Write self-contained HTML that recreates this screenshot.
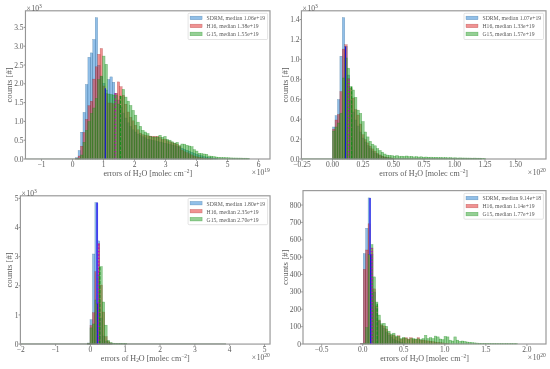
<!DOCTYPE html>
<html lang="en">
<head>
<meta charset="utf-8">
<title>Histograms of H2O errors</title>
<style>
html,body{margin:0;padding:0;background:#fff}
body{width:550px;height:369px;overflow:hidden}
svg{display:block}
</style>
</head>
<body>
<svg width="550" height="369" viewBox="0 0 550 369" font-family="'Liberation Serif', serif" fill="#5a5a5a">
<style>.hb{fill:#2480d2;fill-opacity:.5;stroke:#14507f;stroke-opacity:.5;stroke-width:.4}.hr{fill:#e22626;fill-opacity:.5;stroke:#8f1a1a;stroke-opacity:.5;stroke-width:.4}.hg{fill:#2ca02c;fill-opacity:.5;stroke:#128a12;stroke-opacity:.5;stroke-width:.5}</style>
<rect width="550" height="369" fill="#fff"/>
<g>
<rect class="hb" x="75.65" y="157.6" width="2.45" height="1.4"/>
<rect class="hb" x="78.1" y="150.5" width="2.45" height="8.5"/>
<rect class="hb" x="80.55" y="132.2" width="2.45" height="26.8"/>
<rect class="hb" x="82.99" y="112.4" width="2.45" height="46.6"/>
<rect class="hb" x="85.44" y="84.5" width="2.45" height="74.5"/>
<rect class="hb" x="87.89" y="57.3" width="2.45" height="101.7"/>
<rect class="hb" x="90.33" y="52.9" width="2.45" height="106.1"/>
<rect class="hb" x="92.78" y="39.5" width="2.45" height="119.5"/>
<rect class="hb" x="95.23" y="17.7" width="2.45" height="141.3"/>
<rect class="hb" x="97.68" y="65.3" width="2.45" height="93.7"/>
<rect class="hb" x="100.12" y="76.5" width="2.45" height="82.5"/>
<rect class="hb" x="102.57" y="83.2" width="2.45" height="75.8"/>
<rect class="hb" x="105.02" y="90" width="2.45" height="69"/>
<rect class="hb" x="107.46" y="79.5" width="2.45" height="79.5"/>
<rect class="hb" x="109.91" y="76.9" width="2.45" height="82.1"/>
<rect class="hb" x="112.36" y="82.3" width="2.45" height="76.7"/>
<rect class="hb" x="114.8" y="93.5" width="2.45" height="65.5"/>
<rect class="hb" x="117.25" y="100" width="2.45" height="59"/>
<rect class="hb" x="119.7" y="107" width="2.45" height="52"/>
<rect class="hb" x="122.15" y="113" width="2.45" height="46"/>
<rect class="hb" x="124.59" y="118" width="2.45" height="41"/>
<rect class="hb" x="127.04" y="122.8" width="2.45" height="36.2"/>
<rect class="hb" x="129.49" y="126.5" width="2.45" height="32.5"/>
<rect class="hb" x="131.93" y="129.8" width="2.45" height="29.2"/>
<rect class="hb" x="134.38" y="132" width="2.45" height="27"/>
<rect class="hb" x="136.83" y="134" width="2.45" height="25"/>
<rect class="hb" x="139.27" y="135.5" width="2.45" height="23.5"/>
<rect class="hb" x="141.72" y="136.8" width="2.45" height="22.2"/>
<rect class="hb" x="144.17" y="137.8" width="2.45" height="21.2"/>
<rect class="hb" x="146.62" y="139.2" width="2.45" height="19.8"/>
<rect class="hb" x="149.06" y="139.8" width="2.45" height="19.2"/>
<rect class="hb" x="151.51" y="140.3" width="2.45" height="18.7"/>
<rect class="hb" x="153.96" y="140.8" width="2.45" height="18.2"/>
<rect class="hb" x="156.4" y="141.4" width="2.45" height="17.6"/>
<rect class="hb" x="158.85" y="142" width="2.45" height="17"/>
<rect class="hb" x="161.3" y="142.6" width="2.45" height="16.4"/>
<rect class="hb" x="163.75" y="143.2" width="2.45" height="15.8"/>
<rect class="hb" x="166.19" y="143.8" width="2.45" height="15.2"/>
<rect class="hb" x="168.64" y="144.4" width="2.45" height="14.6"/>
<rect class="hb" x="171.09" y="145" width="2.45" height="14"/>
<rect class="hb" x="173.53" y="145.6" width="2.45" height="13.4"/>
<rect class="hb" x="175.98" y="146.3" width="2.45" height="12.7"/>
<rect class="hb" x="178.43" y="147.2" width="2.45" height="11.8"/>
<rect class="hb" x="180.87" y="148.2" width="2.45" height="10.8"/>
<rect class="hb" x="183.32" y="149.2" width="2.45" height="9.8"/>
<rect class="hb" x="185.77" y="150.2" width="2.45" height="8.8"/>
<rect class="hb" x="188.21" y="151.2" width="2.45" height="7.8"/>
<rect class="hb" x="190.66" y="152.2" width="2.45" height="6.8"/>
<rect class="hb" x="193.11" y="153.2" width="2.45" height="5.8"/>
<rect class="hb" x="195.56" y="154.2" width="2.45" height="4.8"/>
<rect class="hb" x="198" y="155" width="2.45" height="4"/>
<rect class="hb" x="200.45" y="155.8" width="2.45" height="3.2"/>
<rect class="hb" x="202.9" y="156.5" width="2.45" height="2.5"/>
<rect class="hb" x="205.34" y="157" width="2.45" height="2"/>
<rect class="hb" x="207.79" y="157.4" width="2.45" height="1.6"/>
<rect class="hb" x="210.24" y="157.8" width="2.45" height="1.2"/>
<rect class="hb" x="212.69" y="158.1" width="2.45" height="0.9"/>
<rect class="hb" x="215.13" y="158.4" width="2.45" height="0.6"/>
<rect class="hr" x="75.65" y="158.5" width="2.45" height="0.5"/>
<rect class="hr" x="78.1" y="156" width="2.45" height="3"/>
<rect class="hr" x="80.55" y="146.2" width="2.45" height="12.8"/>
<rect class="hr" x="82.99" y="132.5" width="2.45" height="26.5"/>
<rect class="hr" x="85.44" y="119.4" width="2.45" height="39.6"/>
<rect class="hr" x="87.89" y="105.7" width="2.45" height="53.3"/>
<rect class="hr" x="90.33" y="101.2" width="2.45" height="57.8"/>
<rect class="hr" x="92.78" y="79.1" width="2.45" height="79.9"/>
<rect class="hr" x="95.23" y="66.8" width="2.45" height="92.2"/>
<rect class="hr" x="97.68" y="54.3" width="2.45" height="104.7"/>
<rect class="hr" x="100.12" y="48.5" width="2.45" height="110.5"/>
<rect class="hr" x="102.57" y="86" width="2.45" height="73"/>
<rect class="hr" x="105.02" y="93.7" width="2.45" height="65.3"/>
<rect class="hr" x="107.46" y="103" width="2.45" height="56"/>
<rect class="hr" x="109.91" y="103" width="2.45" height="56"/>
<rect class="hr" x="112.36" y="103.8" width="2.45" height="55.2"/>
<rect class="hr" x="114.8" y="93.5" width="2.45" height="65.5"/>
<rect class="hr" x="117.25" y="81.9" width="2.45" height="77.1"/>
<rect class="hr" x="119.7" y="86.7" width="2.45" height="72.3"/>
<rect class="hr" x="122.15" y="95.3" width="2.45" height="63.7"/>
<rect class="hr" x="124.59" y="104.2" width="2.45" height="54.8"/>
<rect class="hr" x="127.04" y="112" width="2.45" height="47"/>
<rect class="hr" x="129.49" y="117.3" width="2.45" height="41.7"/>
<rect class="hr" x="131.93" y="120.8" width="2.45" height="38.2"/>
<rect class="hr" x="134.38" y="125.3" width="2.45" height="33.7"/>
<rect class="hr" x="136.83" y="129.8" width="2.45" height="29.2"/>
<rect class="hr" x="139.27" y="133.1" width="2.45" height="25.9"/>
<rect class="hr" x="141.72" y="134.7" width="2.45" height="24.3"/>
<rect class="hr" x="144.17" y="135.3" width="2.45" height="23.7"/>
<rect class="hr" x="146.62" y="135.8" width="2.45" height="23.2"/>
<rect class="hr" x="149.06" y="136.1" width="2.45" height="22.9"/>
<rect class="hr" x="151.51" y="136.4" width="2.45" height="22.6"/>
<rect class="hr" x="153.96" y="136.4" width="2.45" height="22.6"/>
<rect class="hr" x="156.4" y="136.4" width="2.45" height="22.6"/>
<rect class="hr" x="158.85" y="137.4" width="2.45" height="21.6"/>
<rect class="hr" x="161.3" y="139.4" width="2.45" height="19.6"/>
<rect class="hr" x="163.75" y="139.1" width="2.45" height="19.9"/>
<rect class="hr" x="166.19" y="140.7" width="2.45" height="18.3"/>
<rect class="hr" x="168.64" y="141.8" width="2.45" height="17.2"/>
<rect class="hr" x="171.09" y="142.7" width="2.45" height="16.3"/>
<rect class="hr" x="173.53" y="143.4" width="2.45" height="15.6"/>
<rect class="hr" x="175.98" y="144.2" width="2.45" height="14.8"/>
<rect class="hr" x="178.43" y="146.2" width="2.45" height="12.8"/>
<rect class="hr" x="180.87" y="150" width="2.45" height="9"/>
<rect class="hr" x="183.32" y="151.6" width="2.45" height="7.4"/>
<rect class="hr" x="185.77" y="152.7" width="2.45" height="6.3"/>
<rect class="hr" x="188.21" y="153.8" width="2.45" height="5.2"/>
<rect class="hr" x="190.66" y="154.9" width="2.45" height="4.1"/>
<rect class="hr" x="193.11" y="156" width="2.45" height="3"/>
<rect class="hr" x="195.56" y="156.8" width="2.45" height="2.2"/>
<rect class="hr" x="198" y="157.3" width="2.45" height="1.7"/>
<rect class="hr" x="200.45" y="157.7" width="2.45" height="1.3"/>
<rect class="hr" x="202.9" y="158" width="2.45" height="1"/>
<rect class="hr" x="205.34" y="158.2" width="2.45" height="0.8"/>
<rect class="hr" x="207.79" y="158.4" width="2.45" height="0.6"/>
<rect class="hr" x="210.24" y="158.5" width="2.45" height="0.5"/>
<rect class="hg" x="75.65" y="158.8" width="2.45" height="0.2"/>
<rect class="hg" x="78.1" y="158.3" width="2.45" height="0.7"/>
<rect class="hg" x="80.55" y="155" width="2.45" height="4"/>
<rect class="hg" x="82.99" y="142.4" width="2.45" height="16.6"/>
<rect class="hg" x="85.44" y="130.4" width="2.45" height="28.6"/>
<rect class="hg" x="87.89" y="121.6" width="2.45" height="37.4"/>
<rect class="hg" x="90.33" y="113.5" width="2.45" height="45.5"/>
<rect class="hg" x="92.78" y="108" width="2.45" height="51"/>
<rect class="hg" x="95.23" y="98.5" width="2.45" height="60.5"/>
<rect class="hg" x="97.68" y="79.7" width="2.45" height="79.3"/>
<rect class="hg" x="100.12" y="76.1" width="2.45" height="82.9"/>
<rect class="hg" x="102.57" y="56.1" width="2.45" height="102.9"/>
<rect class="hg" x="105.02" y="64.3" width="2.45" height="94.7"/>
<rect class="hg" x="107.46" y="94" width="2.45" height="65"/>
<rect class="hg" x="109.91" y="94.5" width="2.45" height="64.5"/>
<rect class="hg" x="112.36" y="95" width="2.45" height="64"/>
<rect class="hg" x="114.8" y="95.5" width="2.45" height="63.5"/>
<rect class="hg" x="117.25" y="104.1" width="2.45" height="54.9"/>
<rect class="hg" x="119.7" y="96.5" width="2.45" height="62.5"/>
<rect class="hg" x="122.15" y="89.4" width="2.45" height="69.6"/>
<rect class="hg" x="124.59" y="97.1" width="2.45" height="61.9"/>
<rect class="hg" x="127.04" y="101.2" width="2.45" height="57.8"/>
<rect class="hg" x="129.49" y="105.5" width="2.45" height="53.5"/>
<rect class="hg" x="131.93" y="110.4" width="2.45" height="48.6"/>
<rect class="hg" x="134.38" y="115.2" width="2.45" height="43.8"/>
<rect class="hg" x="136.83" y="122.2" width="2.45" height="36.8"/>
<rect class="hg" x="139.27" y="126.3" width="2.45" height="32.7"/>
<rect class="hg" x="141.72" y="130.4" width="2.45" height="28.6"/>
<rect class="hg" x="144.17" y="132" width="2.45" height="27"/>
<rect class="hg" x="146.62" y="133.6" width="2.45" height="25.4"/>
<rect class="hg" x="149.06" y="136.3" width="2.45" height="22.7"/>
<rect class="hg" x="151.51" y="137" width="2.45" height="22"/>
<rect class="hg" x="153.96" y="137" width="2.45" height="22"/>
<rect class="hg" x="156.4" y="137" width="2.45" height="22"/>
<rect class="hg" x="158.85" y="135.3" width="2.45" height="23.7"/>
<rect class="hg" x="161.3" y="137.4" width="2.45" height="21.6"/>
<rect class="hg" x="163.75" y="136.4" width="2.45" height="22.6"/>
<rect class="hg" x="166.19" y="139.4" width="2.45" height="19.6"/>
<rect class="hg" x="168.64" y="140.2" width="2.45" height="18.8"/>
<rect class="hg" x="171.09" y="141.8" width="2.45" height="17.2"/>
<rect class="hg" x="173.53" y="143.1" width="2.45" height="15.9"/>
<rect class="hg" x="175.98" y="142.4" width="2.45" height="16.6"/>
<rect class="hg" x="178.43" y="145.6" width="2.45" height="13.4"/>
<rect class="hg" x="180.87" y="144" width="2.45" height="15"/>
<rect class="hg" x="183.32" y="144.2" width="2.45" height="14.8"/>
<rect class="hg" x="185.77" y="145.3" width="2.45" height="13.7"/>
<rect class="hg" x="188.21" y="146" width="2.45" height="13"/>
<rect class="hg" x="190.66" y="146.7" width="2.45" height="12.3"/>
<rect class="hg" x="193.11" y="149.7" width="2.45" height="9.3"/>
<rect class="hg" x="195.56" y="151.1" width="2.45" height="7.9"/>
<rect class="hg" x="198" y="153.3" width="2.45" height="5.7"/>
<rect class="hg" x="200.45" y="153.6" width="2.45" height="5.4"/>
<rect class="hg" x="202.9" y="154" width="2.45" height="5"/>
<rect class="hg" x="205.34" y="154.3" width="2.45" height="4.7"/>
<rect class="hg" x="207.79" y="156" width="2.45" height="3"/>
<rect class="hg" x="210.24" y="156.2" width="2.45" height="2.8"/>
<rect class="hg" x="212.69" y="156.6" width="2.45" height="2.4"/>
<rect class="hg" x="215.13" y="157" width="2.45" height="2"/>
<rect class="hg" x="217.58" y="157.3" width="2.45" height="1.7"/>
<rect class="hg" x="220.03" y="157.5" width="2.45" height="1.5"/>
<rect class="hg" x="222.47" y="157.6" width="2.45" height="1.4"/>
<rect class="hg" x="224.92" y="157.7" width="2.45" height="1.3"/>
<rect class="hg" x="227.37" y="157.8" width="2.45" height="1.2"/>
<rect class="hg" x="229.81" y="157.9" width="2.45" height="1.1"/>
<rect class="hg" x="232.26" y="158" width="2.45" height="1"/>
<rect class="hg" x="234.71" y="158" width="2.45" height="1"/>
<rect class="hg" x="237.16" y="158.1" width="2.45" height="0.9"/>
<rect class="hg" x="239.6" y="158.1" width="2.45" height="0.9"/>
<rect class="hg" x="242.05" y="158.2" width="2.45" height="0.8"/>
<rect class="hg" x="244.5" y="158.2" width="2.45" height="0.8"/>
<rect class="hg" x="246.94" y="158.3" width="2.45" height="0.7"/>
<line x1="25.9" y1="158.85" x2="249.4" y2="158.85" stroke="#4f7a55" stroke-opacity="0.45" stroke-width="0.9"/>
<line x1="105.36" y1="159" x2="105.36" y2="88.3" stroke="#1414d8" stroke-width="1.1"/>
<line x1="115.28" y1="159" x2="115.28" y2="93.2" stroke="#c400c4" stroke-width="1.25" stroke-dasharray="1.3 2.1"/>
<line x1="120.55" y1="159" x2="120.55" y2="95.6" stroke="#14901a" stroke-width="1.05" stroke-dasharray="3.4 1.2"/>
<rect x="25.46" y="10.8" width="244.54" height="148.2" fill="none" stroke="#969696" stroke-width="1.15"/>
<line x1="41.5" y1="159.5" x2="41.5" y2="160.7" stroke="#555" stroke-width="0.7"/>
<text x="41.5" y="166.5" font-size="7.5" text-anchor="middle" >−1</text>
<line x1="72.5" y1="159.5" x2="72.5" y2="160.7" stroke="#555" stroke-width="0.7"/>
<text x="72.5" y="166.5" font-size="7.5" text-anchor="middle" >0</text>
<line x1="103.5" y1="159.5" x2="103.5" y2="160.7" stroke="#555" stroke-width="0.7"/>
<text x="103.5" y="166.5" font-size="7.5" text-anchor="middle" >1</text>
<line x1="134.5" y1="159.5" x2="134.5" y2="160.7" stroke="#555" stroke-width="0.7"/>
<text x="134.5" y="166.5" font-size="7.5" text-anchor="middle" >2</text>
<line x1="165.5" y1="159.5" x2="165.5" y2="160.7" stroke="#555" stroke-width="0.7"/>
<text x="165.5" y="166.5" font-size="7.5" text-anchor="middle" >3</text>
<line x1="196.5" y1="159.5" x2="196.5" y2="160.7" stroke="#555" stroke-width="0.7"/>
<text x="196.5" y="166.5" font-size="7.5" text-anchor="middle" >4</text>
<line x1="227.5" y1="159.5" x2="227.5" y2="160.7" stroke="#555" stroke-width="0.7"/>
<text x="227.5" y="166.5" font-size="7.5" text-anchor="middle" >5</text>
<line x1="258.5" y1="159.5" x2="258.5" y2="160.7" stroke="#555" stroke-width="0.7"/>
<text x="258.5" y="166.5" font-size="7.5" text-anchor="middle" >6</text>
<line x1="23.76" y1="159" x2="24.96" y2="159" stroke="#555" stroke-width="0.7"/>
<text x="23.56" y="161.6" font-size="7.5" text-anchor="end" >0.0</text>
<line x1="23.76" y1="140.2" x2="24.96" y2="140.2" stroke="#555" stroke-width="0.7"/>
<text x="23.56" y="142.8" font-size="7.5" text-anchor="end" >0.5</text>
<line x1="23.76" y1="121.4" x2="24.96" y2="121.4" stroke="#555" stroke-width="0.7"/>
<text x="23.56" y="124" font-size="7.5" text-anchor="end" >1.0</text>
<line x1="23.76" y1="102.6" x2="24.96" y2="102.6" stroke="#555" stroke-width="0.7"/>
<text x="23.56" y="105.2" font-size="7.5" text-anchor="end" >1.5</text>
<line x1="23.76" y1="83.8" x2="24.96" y2="83.8" stroke="#555" stroke-width="0.7"/>
<text x="23.56" y="86.4" font-size="7.5" text-anchor="end" >2.0</text>
<line x1="23.76" y1="65" x2="24.96" y2="65" stroke="#555" stroke-width="0.7"/>
<text x="23.56" y="67.6" font-size="7.5" text-anchor="end" >2.5</text>
<line x1="23.76" y1="46.2" x2="24.96" y2="46.2" stroke="#555" stroke-width="0.7"/>
<text x="23.56" y="48.8" font-size="7.5" text-anchor="end" >3.0</text>
<line x1="23.76" y1="27.4" x2="24.96" y2="27.4" stroke="#555" stroke-width="0.7"/>
<text x="23.56" y="30" font-size="7.5" text-anchor="end" >3.5</text>
<text x="26.56" y="10.7" font-size="7.5" text-anchor="start" >×<tspan dx="0.8">10</tspan><tspan dy="-2.8" font-size="5.6">3</tspan></text>
<text x="269.8" y="174.5" font-size="7.5" text-anchor="end" >×<tspan dx="0.8">10</tspan><tspan dy="-2.8" font-size="5.6">19</tspan></text>
<text x="147.73" y="176.2" font-size="8.1" text-anchor="middle" textLength="88.7" lengthAdjust="spacingAndGlyphs">errors of H<tspan dy="1.2" font-size="5.4">2</tspan><tspan dy="-1.2">O [molec</tspan><tspan dx="2.3">cm</tspan><tspan dy="-2.8" font-size="5.4">−2</tspan><tspan dy="2.8">]</tspan></text>
<text transform="translate(11.9,84.9) rotate(-90)" font-size="8.1" text-anchor="middle" textLength="35.3" lengthAdjust="spacingAndGlyphs">counts [#]</text>
<rect x="188.1" y="13.3" width="79.5" height="26.2" rx="1" ry="1" fill="#fff" fill-opacity="0.8" stroke="#d0d0d0" stroke-width="0.6"/>
<rect class="hb" x="190.1" y="16.15" width="12" height="3.6"/>
<text x="206.6" y="20.3" font-size="6.3" text-anchor="start" textLength="58.6" lengthAdjust="spacingAndGlyphs">SDRM, median 1.06e+19</text>
<rect class="hr" x="190.1" y="24.15" width="12" height="3.6"/>
<text x="206.6" y="28.3" font-size="6.3" text-anchor="start" textLength="52" lengthAdjust="spacingAndGlyphs">H16, median 1.38e+19</text>
<rect class="hg" x="190.1" y="32.15" width="12" height="3.6"/>
<text x="206.6" y="36.3" font-size="6.3" text-anchor="start" textLength="52" lengthAdjust="spacingAndGlyphs">G15, median 1.55e+19</text>
</g>
<g>
<rect class="hb" x="332.6" y="127" width="2.43" height="32"/>
<rect class="hb" x="335.03" y="115.6" width="2.43" height="43.4"/>
<rect class="hb" x="337.46" y="99.6" width="2.43" height="59.4"/>
<rect class="hb" x="339.89" y="56.2" width="2.43" height="102.8"/>
<rect class="hb" x="342.32" y="17.6" width="2.43" height="141.4"/>
<rect class="hb" x="344.75" y="46.4" width="2.43" height="112.6"/>
<rect class="hb" x="347.18" y="75" width="2.43" height="84"/>
<rect class="hb" x="349.61" y="100" width="2.43" height="59"/>
<rect class="hb" x="352.04" y="112" width="2.43" height="47"/>
<rect class="hb" x="354.47" y="120" width="2.43" height="39"/>
<rect class="hb" x="356.9" y="126" width="2.43" height="33"/>
<rect class="hb" x="359.33" y="132" width="2.43" height="27"/>
<rect class="hb" x="361.76" y="138" width="2.43" height="21"/>
<rect class="hb" x="364.19" y="142" width="2.43" height="17"/>
<rect class="hb" x="366.62" y="145.5" width="2.43" height="13.5"/>
<rect class="hb" x="369.05" y="148.5" width="2.43" height="10.5"/>
<rect class="hb" x="371.48" y="151" width="2.43" height="8"/>
<rect class="hb" x="373.91" y="153" width="2.43" height="6"/>
<rect class="hb" x="376.34" y="154.5" width="2.43" height="4.5"/>
<rect class="hb" x="378.77" y="155.6" width="2.43" height="3.4"/>
<rect class="hb" x="381.2" y="156.5" width="2.43" height="2.5"/>
<rect class="hb" x="383.63" y="157.2" width="2.43" height="1.8"/>
<rect class="hb" x="386.06" y="157.7" width="2.43" height="1.3"/>
<rect class="hb" x="388.49" y="158" width="2.43" height="1"/>
<rect class="hb" x="390.92" y="158.2" width="2.43" height="0.8"/>
<rect class="hr" x="332.6" y="129.1" width="2.43" height="29.9"/>
<rect class="hr" x="335.03" y="120" width="2.43" height="39"/>
<rect class="hr" x="337.46" y="114.5" width="2.43" height="44.5"/>
<rect class="hr" x="339.89" y="91.6" width="2.43" height="67.4"/>
<rect class="hr" x="342.32" y="49.1" width="2.43" height="109.9"/>
<rect class="hr" x="344.75" y="44.7" width="2.43" height="114.3"/>
<rect class="hr" x="347.18" y="78.5" width="2.43" height="80.5"/>
<rect class="hr" x="349.61" y="88" width="2.43" height="71"/>
<rect class="hr" x="352.04" y="98" width="2.43" height="61"/>
<rect class="hr" x="354.47" y="109.6" width="2.43" height="49.4"/>
<rect class="hr" x="356.9" y="115" width="2.43" height="44"/>
<rect class="hr" x="359.33" y="124" width="2.43" height="35"/>
<rect class="hr" x="361.76" y="134.7" width="2.43" height="24.3"/>
<rect class="hr" x="364.19" y="139.6" width="2.43" height="19.4"/>
<rect class="hr" x="366.62" y="142.9" width="2.43" height="16.1"/>
<rect class="hr" x="369.05" y="146.2" width="2.43" height="12.8"/>
<rect class="hr" x="371.48" y="148.9" width="2.43" height="10.1"/>
<rect class="hr" x="373.91" y="151.1" width="2.43" height="7.9"/>
<rect class="hr" x="376.34" y="153.3" width="2.43" height="5.7"/>
<rect class="hr" x="378.77" y="154.9" width="2.43" height="4.1"/>
<rect class="hr" x="381.2" y="156" width="2.43" height="3"/>
<rect class="hr" x="383.63" y="156.9" width="2.43" height="2.1"/>
<rect class="hr" x="386.06" y="157.5" width="2.43" height="1.5"/>
<rect class="hr" x="388.49" y="157.8" width="2.43" height="1.2"/>
<rect class="hr" x="390.92" y="158" width="2.43" height="1"/>
<rect class="hg" x="332.6" y="131" width="2.43" height="28"/>
<rect class="hg" x="335.03" y="127" width="2.43" height="32"/>
<rect class="hg" x="337.46" y="123" width="2.43" height="36"/>
<rect class="hg" x="339.89" y="113.4" width="2.43" height="45.6"/>
<rect class="hg" x="342.32" y="78" width="2.43" height="81"/>
<rect class="hg" x="344.75" y="58" width="2.43" height="101"/>
<rect class="hg" x="347.18" y="68.2" width="2.43" height="90.8"/>
<rect class="hg" x="349.61" y="86.7" width="2.43" height="72.3"/>
<rect class="hg" x="352.04" y="90" width="2.43" height="69"/>
<rect class="hg" x="354.47" y="97.4" width="2.43" height="61.6"/>
<rect class="hg" x="356.9" y="110.2" width="2.43" height="48.8"/>
<rect class="hg" x="359.33" y="113.4" width="2.43" height="45.6"/>
<rect class="hg" x="361.76" y="121.6" width="2.43" height="37.4"/>
<rect class="hg" x="364.19" y="132" width="2.43" height="27"/>
<rect class="hg" x="366.62" y="136.9" width="2.43" height="22.1"/>
<rect class="hg" x="369.05" y="141.3" width="2.43" height="17.7"/>
<rect class="hg" x="371.48" y="144.2" width="2.43" height="14.8"/>
<rect class="hg" x="373.91" y="145.8" width="2.43" height="13.2"/>
<rect class="hg" x="376.34" y="148.6" width="2.43" height="10.4"/>
<rect class="hg" x="378.77" y="150.5" width="2.43" height="8.5"/>
<rect class="hg" x="381.2" y="152.2" width="2.43" height="6.8"/>
<rect class="hg" x="383.63" y="154" width="2.43" height="5"/>
<rect class="hg" x="386.06" y="155.1" width="2.43" height="3.9"/>
<rect class="hg" x="388.49" y="155.4" width="2.43" height="3.6"/>
<rect class="hg" x="390.92" y="155.7" width="2.43" height="3.3"/>
<rect class="hg" x="393.35" y="156.2" width="2.43" height="2.8"/>
<rect class="hg" x="395.78" y="155.7" width="2.43" height="3.3"/>
<rect class="hg" x="398.21" y="156.5" width="2.43" height="2.5"/>
<rect class="hg" x="400.64" y="156.2" width="2.43" height="2.8"/>
<rect class="hg" x="403.07" y="156.5" width="2.43" height="2.5"/>
<rect class="hg" x="405.5" y="156" width="2.43" height="3"/>
<rect class="hg" x="407.93" y="156.6" width="2.43" height="2.4"/>
<rect class="hg" x="410.36" y="156.4" width="2.43" height="2.6"/>
<rect class="hg" x="412.79" y="156.9" width="2.43" height="2.1"/>
<rect class="hg" x="415.22" y="156.7" width="2.43" height="2.3"/>
<rect class="hg" x="417.65" y="157" width="2.43" height="2"/>
<rect class="hg" x="420.08" y="156.8" width="2.43" height="2.2"/>
<rect class="hg" x="422.51" y="157.2" width="2.43" height="1.8"/>
<rect class="hg" x="424.94" y="157" width="2.43" height="2"/>
<rect class="hg" x="427.37" y="157.3" width="2.43" height="1.7"/>
<rect class="hg" x="429.8" y="157.2" width="2.43" height="1.8"/>
<rect class="hg" x="432.23" y="157.5" width="2.43" height="1.5"/>
<rect class="hg" x="434.66" y="157.3" width="2.43" height="1.7"/>
<rect class="hg" x="437.09" y="157.6" width="2.43" height="1.4"/>
<rect class="hg" x="439.52" y="157.5" width="2.43" height="1.5"/>
<rect class="hg" x="441.95" y="157.7" width="2.43" height="1.3"/>
<rect class="hg" x="444.38" y="157.6" width="2.43" height="1.4"/>
<rect class="hg" x="446.81" y="157.8" width="2.43" height="1.2"/>
<rect class="hg" x="449.24" y="157.7" width="2.43" height="1.3"/>
<rect class="hg" x="451.67" y="157.9" width="2.43" height="1.1"/>
<rect class="hg" x="454.1" y="157.8" width="2.43" height="1.2"/>
<rect class="hg" x="456.53" y="158" width="2.43" height="1"/>
<rect class="hg" x="458.96" y="157.9" width="2.43" height="1.1"/>
<rect class="hg" x="461.39" y="158" width="2.43" height="1"/>
<rect class="hg" x="463.82" y="158" width="2.43" height="1"/>
<rect class="hg" x="466.25" y="158.1" width="2.43" height="0.9"/>
<rect class="hg" x="468.68" y="158.1" width="2.43" height="0.9"/>
<rect class="hg" x="471.11" y="158.2" width="2.43" height="0.8"/>
<rect class="hg" x="473.54" y="158.1" width="2.43" height="0.9"/>
<rect class="hg" x="475.97" y="158.2" width="2.43" height="0.8"/>
<rect class="hg" x="478.4" y="158.2" width="2.43" height="0.8"/>
<rect class="hg" x="480.83" y="158.3" width="2.43" height="0.7"/>
<rect class="hg" x="483.26" y="158.3" width="2.43" height="0.7"/>
<line x1="301.9" y1="158.85" x2="482" y2="158.85" stroke="#3c7a3c" stroke-opacity="0.7" stroke-width="0.9"/>
<line x1="345.55" y1="159" x2="345.55" y2="46.6" stroke="#1414d8" stroke-width="1.1"/>
<line x1="348.73" y1="159" x2="348.73" y2="78.5" stroke="#c400c4" stroke-width="1.25" stroke-dasharray="1.3 2.1"/>
<line x1="351.65" y1="159" x2="351.65" y2="86.7" stroke="#14901a" stroke-width="1.05" stroke-dasharray="3.4 1.2"/>
<rect x="301.42" y="10.8" width="244.58" height="148.2" fill="none" stroke="#969696" stroke-width="1.15"/>
<line x1="302" y1="159.5" x2="302" y2="160.7" stroke="#555" stroke-width="0.7"/>
<text x="302" y="166.5" font-size="7.5" text-anchor="middle" >−0.25</text>
<line x1="332.5" y1="159.5" x2="332.5" y2="160.7" stroke="#555" stroke-width="0.7"/>
<text x="332.5" y="166.5" font-size="7.5" text-anchor="middle" >0.00</text>
<line x1="363" y1="159.5" x2="363" y2="160.7" stroke="#555" stroke-width="0.7"/>
<text x="363" y="166.5" font-size="7.5" text-anchor="middle" >0.25</text>
<line x1="393.5" y1="159.5" x2="393.5" y2="160.7" stroke="#555" stroke-width="0.7"/>
<text x="393.5" y="166.5" font-size="7.5" text-anchor="middle" >0.50</text>
<line x1="424" y1="159.5" x2="424" y2="160.7" stroke="#555" stroke-width="0.7"/>
<text x="424" y="166.5" font-size="7.5" text-anchor="middle" >0.75</text>
<line x1="454.5" y1="159.5" x2="454.5" y2="160.7" stroke="#555" stroke-width="0.7"/>
<text x="454.5" y="166.5" font-size="7.5" text-anchor="middle" >1.00</text>
<line x1="485" y1="159.5" x2="485" y2="160.7" stroke="#555" stroke-width="0.7"/>
<text x="485" y="166.5" font-size="7.5" text-anchor="middle" >1.25</text>
<line x1="515.5" y1="159.5" x2="515.5" y2="160.7" stroke="#555" stroke-width="0.7"/>
<text x="515.5" y="166.5" font-size="7.5" text-anchor="middle" >1.50</text>
<line x1="299.72" y1="159" x2="300.92" y2="159" stroke="#555" stroke-width="0.7"/>
<text x="299.52" y="161.6" font-size="7.5" text-anchor="end" >0.0</text>
<line x1="299.72" y1="139.08" x2="300.92" y2="139.08" stroke="#555" stroke-width="0.7"/>
<text x="299.52" y="141.68" font-size="7.5" text-anchor="end" >0.2</text>
<line x1="299.72" y1="119.16" x2="300.92" y2="119.16" stroke="#555" stroke-width="0.7"/>
<text x="299.52" y="121.76" font-size="7.5" text-anchor="end" >0.4</text>
<line x1="299.72" y1="99.24" x2="300.92" y2="99.24" stroke="#555" stroke-width="0.7"/>
<text x="299.52" y="101.84" font-size="7.5" text-anchor="end" >0.6</text>
<line x1="299.72" y1="79.32" x2="300.92" y2="79.32" stroke="#555" stroke-width="0.7"/>
<text x="299.52" y="81.92" font-size="7.5" text-anchor="end" >0.8</text>
<line x1="299.72" y1="59.4" x2="300.92" y2="59.4" stroke="#555" stroke-width="0.7"/>
<text x="299.52" y="62" font-size="7.5" text-anchor="end" >1.0</text>
<line x1="299.72" y1="39.48" x2="300.92" y2="39.48" stroke="#555" stroke-width="0.7"/>
<text x="299.52" y="42.08" font-size="7.5" text-anchor="end" >1.2</text>
<line x1="299.72" y1="19.56" x2="300.92" y2="19.56" stroke="#555" stroke-width="0.7"/>
<text x="299.52" y="22.16" font-size="7.5" text-anchor="end" >1.4</text>
<text x="302.52" y="10.7" font-size="7.5" text-anchor="start" >×<tspan dx="0.8">10</tspan><tspan dy="-2.8" font-size="5.6">3</tspan></text>
<text x="545.8" y="174.5" font-size="7.5" text-anchor="end" >×<tspan dx="0.8">10</tspan><tspan dy="-2.8" font-size="5.6">20</tspan></text>
<text x="423.71" y="176.2" font-size="8.1" text-anchor="middle" textLength="88.7" lengthAdjust="spacingAndGlyphs">errors of H<tspan dy="1.2" font-size="5.4">2</tspan><tspan dy="-1.2">O [molec</tspan><tspan dx="2.3">cm</tspan><tspan dy="-2.8" font-size="5.4">−2</tspan><tspan dy="2.8">]</tspan></text>
<text transform="translate(287.9,84.9) rotate(-90)" font-size="8.1" text-anchor="middle" textLength="35.3" lengthAdjust="spacingAndGlyphs">counts [#]</text>
<rect x="464" y="13.3" width="79.5" height="26.2" rx="1" ry="1" fill="#fff" fill-opacity="0.8" stroke="#d0d0d0" stroke-width="0.6"/>
<rect class="hb" x="466" y="16.15" width="12" height="3.6"/>
<text x="482.5" y="20.3" font-size="6.3" text-anchor="start" textLength="58.6" lengthAdjust="spacingAndGlyphs">SDRM, median 1.07e+19</text>
<rect class="hr" x="466" y="24.15" width="12" height="3.6"/>
<text x="482.5" y="28.3" font-size="6.3" text-anchor="start" textLength="52" lengthAdjust="spacingAndGlyphs">H16, median 1.33e+19</text>
<rect class="hg" x="466" y="32.15" width="12" height="3.6"/>
<text x="482.5" y="36.3" font-size="6.3" text-anchor="start" textLength="52" lengthAdjust="spacingAndGlyphs">G15, median 1.57e+19</text>
</g>
<g>
<rect class="hb" x="87.55" y="343" width="2.45" height="1.07"/>
<rect class="hb" x="90" y="319.7" width="2.45" height="24.37"/>
<rect class="hb" x="92.45" y="254" width="2.45" height="90.07"/>
<rect class="hb" x="94.9" y="202.6" width="2.45" height="141.47"/>
<rect class="hb" x="97.35" y="240.9" width="2.45" height="103.17"/>
<rect class="hb" x="99.8" y="318" width="2.45" height="26.07"/>
<rect class="hb" x="102.25" y="336" width="2.45" height="8.07"/>
<rect class="hb" x="104.7" y="341" width="2.45" height="3.07"/>
<rect class="hb" x="107.15" y="343" width="2.45" height="1.07"/>
<rect class="hb" x="109.6" y="343.5" width="2.45" height="0.57"/>
<rect class="hr" x="87.55" y="343.4" width="2.45" height="0.67"/>
<rect class="hr" x="90" y="325.5" width="2.45" height="18.57"/>
<rect class="hr" x="92.45" y="312.8" width="2.45" height="31.27"/>
<rect class="hr" x="94.9" y="271.7" width="2.45" height="72.37"/>
<rect class="hr" x="97.35" y="243.5" width="2.45" height="100.57"/>
<rect class="hr" x="99.8" y="285" width="2.45" height="59.07"/>
<rect class="hr" x="102.25" y="312" width="2.45" height="32.07"/>
<rect class="hr" x="104.7" y="336.6" width="2.45" height="7.47"/>
<rect class="hr" x="107.15" y="341.5" width="2.45" height="2.57"/>
<rect class="hr" x="109.6" y="343" width="2.45" height="1.07"/>
<rect class="hg" x="87.55" y="343.6" width="2.45" height="0.47"/>
<rect class="hg" x="90" y="327.9" width="2.45" height="16.17"/>
<rect class="hg" x="92.45" y="324" width="2.45" height="20.07"/>
<rect class="hg" x="94.9" y="300" width="2.45" height="44.07"/>
<rect class="hg" x="97.35" y="275" width="2.45" height="69.07"/>
<rect class="hg" x="99.8" y="266.6" width="2.45" height="77.47"/>
<rect class="hg" x="102.25" y="302" width="2.45" height="42.07"/>
<rect class="hg" x="104.7" y="325.2" width="2.45" height="18.87"/>
<rect class="hg" x="107.15" y="340.4" width="2.45" height="3.67"/>
<rect class="hg" x="109.6" y="342.6" width="2.45" height="1.47"/>
<rect class="hg" x="112.05" y="343.2" width="2.45" height="0.87"/>
<rect class="hg" x="114.5" y="343.3" width="2.45" height="0.77"/>
<rect class="hg" x="116.95" y="343.4" width="2.45" height="0.67"/>
<rect class="hg" x="119.4" y="343.4" width="2.45" height="0.67"/>
<rect class="hg" x="121.85" y="343.5" width="2.45" height="0.57"/>
<rect class="hg" x="124.3" y="343.5" width="2.45" height="0.57"/>
<line x1="20.8" y1="343.92" x2="226" y2="343.92" stroke="#3a5e3a" stroke-opacity="0.8" stroke-width="0.9"/>
<line x1="97.1" y1="202.6" x2="97.1" y2="304" stroke="#4040ee" stroke-width="1.9"/>
<line x1="97.45" y1="303.5" x2="97.45" y2="344.07" stroke="#1a1ad6" stroke-width="1.35"/>
<line x1="98.58" y1="344.07" x2="98.58" y2="243.5" stroke="#c400c4" stroke-width="1.5" stroke-dasharray="1.3 2.1"/>
<line x1="99.8" y1="344.07" x2="99.8" y2="267" stroke="#14901a" stroke-width="1.2" stroke-dasharray="3.4 1.2"/>
<rect x="20.4" y="195.8" width="249.65" height="148.27" fill="none" stroke="#969696" stroke-width="1.15"/>
<line x1="20.76" y1="344.57" x2="20.76" y2="345.77" stroke="#555" stroke-width="0.7"/>
<text x="20.76" y="351.57" font-size="7.5" text-anchor="middle" >−2</text>
<line x1="55.58" y1="344.57" x2="55.58" y2="345.77" stroke="#555" stroke-width="0.7"/>
<text x="55.58" y="351.57" font-size="7.5" text-anchor="middle" >−1</text>
<line x1="90.4" y1="344.57" x2="90.4" y2="345.77" stroke="#555" stroke-width="0.7"/>
<text x="90.4" y="351.57" font-size="7.5" text-anchor="middle" >0</text>
<line x1="125.22" y1="344.57" x2="125.22" y2="345.77" stroke="#555" stroke-width="0.7"/>
<text x="125.22" y="351.57" font-size="7.5" text-anchor="middle" >1</text>
<line x1="160.04" y1="344.57" x2="160.04" y2="345.77" stroke="#555" stroke-width="0.7"/>
<text x="160.04" y="351.57" font-size="7.5" text-anchor="middle" >2</text>
<line x1="194.86" y1="344.57" x2="194.86" y2="345.77" stroke="#555" stroke-width="0.7"/>
<text x="194.86" y="351.57" font-size="7.5" text-anchor="middle" >3</text>
<line x1="229.68" y1="344.57" x2="229.68" y2="345.77" stroke="#555" stroke-width="0.7"/>
<text x="229.68" y="351.57" font-size="7.5" text-anchor="middle" >4</text>
<line x1="264.5" y1="344.57" x2="264.5" y2="345.77" stroke="#555" stroke-width="0.7"/>
<text x="264.5" y="351.57" font-size="7.5" text-anchor="middle" >5</text>
<line x1="18.7" y1="344.07" x2="19.9" y2="344.07" stroke="#555" stroke-width="0.7"/>
<text x="18.5" y="346.67" font-size="7.5" text-anchor="end" >0</text>
<line x1="18.7" y1="314.92" x2="19.9" y2="314.92" stroke="#555" stroke-width="0.7"/>
<text x="18.5" y="317.52" font-size="7.5" text-anchor="end" >1</text>
<line x1="18.7" y1="285.77" x2="19.9" y2="285.77" stroke="#555" stroke-width="0.7"/>
<text x="18.5" y="288.37" font-size="7.5" text-anchor="end" >2</text>
<line x1="18.7" y1="256.62" x2="19.9" y2="256.62" stroke="#555" stroke-width="0.7"/>
<text x="18.5" y="259.22" font-size="7.5" text-anchor="end" >3</text>
<line x1="18.7" y1="227.47" x2="19.9" y2="227.47" stroke="#555" stroke-width="0.7"/>
<text x="18.5" y="230.07" font-size="7.5" text-anchor="end" >4</text>
<line x1="18.7" y1="198.32" x2="19.9" y2="198.32" stroke="#555" stroke-width="0.7"/>
<text x="18.5" y="200.92" font-size="7.5" text-anchor="end" >5</text>
<text x="21.5" y="195.7" font-size="7.5" text-anchor="start" >×<tspan dx="0.8">10</tspan><tspan dy="-2.8" font-size="5.6">3</tspan></text>
<text x="269.85" y="359.57" font-size="7.5" text-anchor="end" >×<tspan dx="0.8">10</tspan><tspan dy="-2.8" font-size="5.6">20</tspan></text>
<text x="145.22" y="361.27" font-size="8.1" text-anchor="middle" textLength="88.7" lengthAdjust="spacingAndGlyphs">errors of H<tspan dy="1.2" font-size="5.4">2</tspan><tspan dy="-1.2">O [molec</tspan><tspan dx="2.3">cm</tspan><tspan dy="-2.8" font-size="5.4">−2</tspan><tspan dy="2.8">]</tspan></text>
<text transform="translate(12.3,269.94) rotate(-90)" font-size="8.1" text-anchor="middle" textLength="35.3" lengthAdjust="spacingAndGlyphs">counts [#]</text>
<rect x="188.1" y="198.5" width="79.5" height="26.2" rx="1" ry="1" fill="#fff" fill-opacity="0.8" stroke="#d0d0d0" stroke-width="0.6"/>
<rect class="hb" x="190.1" y="201.35" width="12" height="3.6"/>
<text x="206.6" y="205.5" font-size="6.3" text-anchor="start" textLength="58.6" lengthAdjust="spacingAndGlyphs">SDRM, median 1.80e+19</text>
<rect class="hr" x="190.1" y="209.35" width="12" height="3.6"/>
<text x="206.6" y="213.5" font-size="6.3" text-anchor="start" textLength="52" lengthAdjust="spacingAndGlyphs">H16, median 2.35e+19</text>
<rect class="hg" x="190.1" y="217.35" width="12" height="3.6"/>
<text x="206.6" y="221.5" font-size="6.3" text-anchor="start" textLength="52" lengthAdjust="spacingAndGlyphs">G15, median 2.70e+19</text>
</g>
<g>
<rect class="hb" x="360.75" y="343.4" width="2.45" height="0.6"/>
<rect class="hb" x="363.2" y="253.6" width="2.45" height="90.4"/>
<rect class="hb" x="365.65" y="228.3" width="2.45" height="115.7"/>
<rect class="hb" x="368.1" y="197.9" width="2.45" height="146.1"/>
<rect class="hb" x="370.55" y="254" width="2.45" height="90"/>
<rect class="hb" x="373" y="292" width="2.45" height="52"/>
<rect class="hb" x="375.45" y="308" width="2.45" height="36"/>
<rect class="hb" x="377.9" y="321" width="2.45" height="23"/>
<rect class="hb" x="380.35" y="326" width="2.45" height="18"/>
<rect class="hb" x="382.8" y="328" width="2.45" height="16"/>
<rect class="hb" x="385.25" y="332" width="2.45" height="12"/>
<rect class="hb" x="387.7" y="335" width="2.45" height="9"/>
<rect class="hb" x="390.15" y="337" width="2.45" height="7"/>
<rect class="hb" x="392.6" y="339" width="2.45" height="5"/>
<rect class="hb" x="395.05" y="340.5" width="2.45" height="3.5"/>
<rect class="hb" x="397.5" y="341.5" width="2.45" height="2.5"/>
<rect class="hb" x="399.95" y="342.3" width="2.45" height="1.7"/>
<rect class="hb" x="402.4" y="343" width="2.45" height="1"/>
<rect class="hb" x="404.85" y="343.4" width="2.45" height="0.6"/>
<rect class="hr" x="360.75" y="343.6" width="2.45" height="0.4"/>
<rect class="hr" x="363.2" y="269.3" width="2.45" height="74.7"/>
<rect class="hr" x="365.65" y="250" width="2.45" height="94"/>
<rect class="hr" x="368.1" y="223.8" width="2.45" height="120.2"/>
<rect class="hr" x="370.55" y="248" width="2.45" height="96"/>
<rect class="hr" x="373" y="288.9" width="2.45" height="55.1"/>
<rect class="hr" x="375.45" y="306" width="2.45" height="38"/>
<rect class="hr" x="377.9" y="320" width="2.45" height="24"/>
<rect class="hr" x="380.35" y="325" width="2.45" height="19"/>
<rect class="hr" x="382.8" y="326" width="2.45" height="18"/>
<rect class="hr" x="385.25" y="329" width="2.45" height="15"/>
<rect class="hr" x="387.7" y="333" width="2.45" height="11"/>
<rect class="hr" x="390.15" y="335.5" width="2.45" height="8.5"/>
<rect class="hr" x="392.6" y="335" width="2.45" height="9"/>
<rect class="hr" x="395.05" y="337.2" width="2.45" height="6.8"/>
<rect class="hr" x="397.5" y="335.8" width="2.45" height="8.2"/>
<rect class="hr" x="399.95" y="339.2" width="2.45" height="4.8"/>
<rect class="hr" x="402.4" y="338.2" width="2.45" height="5.8"/>
<rect class="hr" x="404.85" y="337.7" width="2.45" height="6.3"/>
<rect class="hr" x="407.3" y="339" width="2.45" height="5"/>
<rect class="hr" x="409.75" y="337.7" width="2.45" height="6.3"/>
<rect class="hr" x="412.2" y="339.4" width="2.45" height="4.6"/>
<rect class="hr" x="414.65" y="339.6" width="2.45" height="4.4"/>
<rect class="hr" x="417.1" y="337.7" width="2.45" height="6.3"/>
<rect class="hr" x="419.55" y="340.2" width="2.45" height="3.8"/>
<rect class="hr" x="422" y="340" width="2.45" height="4"/>
<rect class="hr" x="424.45" y="340.6" width="2.45" height="3.4"/>
<rect class="hr" x="426.9" y="340.9" width="2.45" height="3.1"/>
<rect class="hr" x="429.35" y="341.2" width="2.45" height="2.8"/>
<rect class="hr" x="431.8" y="341.6" width="2.45" height="2.4"/>
<rect class="hr" x="434.25" y="342" width="2.45" height="2"/>
<rect class="hr" x="436.7" y="342.3" width="2.45" height="1.7"/>
<rect class="hr" x="439.15" y="342.6" width="2.45" height="1.4"/>
<rect class="hr" x="441.6" y="342.9" width="2.45" height="1.1"/>
<rect class="hr" x="444.05" y="343.2" width="2.45" height="0.8"/>
<rect class="hr" x="446.5" y="343.5" width="2.45" height="0.5"/>
<rect class="hg" x="363.2" y="343.2" width="2.45" height="0.8"/>
<rect class="hg" x="365.65" y="327.7" width="2.45" height="16.3"/>
<rect class="hg" x="368.1" y="254.4" width="2.45" height="89.6"/>
<rect class="hg" x="370.55" y="244.6" width="2.45" height="99.4"/>
<rect class="hg" x="373" y="276.9" width="2.45" height="67.1"/>
<rect class="hg" x="375.45" y="302.1" width="2.45" height="41.9"/>
<rect class="hg" x="377.9" y="315.1" width="2.45" height="28.9"/>
<rect class="hg" x="380.35" y="323.8" width="2.45" height="20.2"/>
<rect class="hg" x="382.8" y="323.3" width="2.45" height="20.7"/>
<rect class="hg" x="385.25" y="326.3" width="2.45" height="17.7"/>
<rect class="hg" x="387.7" y="331.2" width="2.45" height="12.8"/>
<rect class="hg" x="390.15" y="334.1" width="2.45" height="9.9"/>
<rect class="hg" x="392.6" y="333.2" width="2.45" height="10.8"/>
<rect class="hg" x="395.05" y="336.1" width="2.45" height="7.9"/>
<rect class="hg" x="397.5" y="336.4" width="2.45" height="7.6"/>
<rect class="hg" x="399.95" y="338.6" width="2.45" height="5.4"/>
<rect class="hg" x="402.4" y="337.4" width="2.45" height="6.6"/>
<rect class="hg" x="404.85" y="338.4" width="2.45" height="5.6"/>
<rect class="hg" x="407.3" y="339.8" width="2.45" height="4.2"/>
<rect class="hg" x="409.75" y="338.6" width="2.45" height="5.4"/>
<rect class="hg" x="412.2" y="338.6" width="2.45" height="5.4"/>
<rect class="hg" x="414.65" y="339" width="2.45" height="5"/>
<rect class="hg" x="417.1" y="338.8" width="2.45" height="5.2"/>
<rect class="hg" x="419.55" y="339.4" width="2.45" height="4.6"/>
<rect class="hg" x="422" y="338.6" width="2.45" height="5.4"/>
<rect class="hg" x="424.45" y="335.3" width="2.45" height="8.7"/>
<rect class="hg" x="426.9" y="338.6" width="2.45" height="5.4"/>
<rect class="hg" x="429.35" y="337.7" width="2.45" height="6.3"/>
<rect class="hg" x="431.8" y="338.6" width="2.45" height="5.4"/>
<rect class="hg" x="434.25" y="336.1" width="2.45" height="7.9"/>
<rect class="hg" x="436.7" y="336.9" width="2.45" height="7.1"/>
<rect class="hg" x="439.15" y="339" width="2.45" height="5"/>
<rect class="hg" x="441.6" y="339.7" width="2.45" height="4.3"/>
<rect class="hg" x="444.05" y="336.4" width="2.45" height="7.6"/>
<rect class="hg" x="446.5" y="336.9" width="2.45" height="7.1"/>
<rect class="hg" x="448.95" y="340.2" width="2.45" height="3.8"/>
<rect class="hg" x="451.4" y="341" width="2.45" height="3"/>
<rect class="hg" x="453.85" y="336.9" width="2.45" height="7.1"/>
<rect class="hg" x="456.3" y="340.2" width="2.45" height="3.8"/>
<rect class="hg" x="458.75" y="341.3" width="2.45" height="2.7"/>
<rect class="hg" x="461.2" y="341" width="2.45" height="3"/>
<rect class="hg" x="463.65" y="341.5" width="2.45" height="2.5"/>
<rect class="hg" x="466.1" y="342" width="2.45" height="2"/>
<rect class="hg" x="468.55" y="342.3" width="2.45" height="1.7"/>
<rect class="hg" x="471" y="342.6" width="2.45" height="1.4"/>
<rect class="hg" x="473.45" y="342.9" width="2.45" height="1.1"/>
<rect class="hg" x="475.9" y="343.1" width="2.45" height="0.9"/>
<rect class="hg" x="478.35" y="343.3" width="2.45" height="0.7"/>
<rect class="hg" x="480.8" y="343.4" width="2.45" height="0.6"/>
<rect class="hg" x="483.25" y="343.5" width="2.45" height="0.5"/>
<rect class="hg" x="485.7" y="343.5" width="2.45" height="0.5"/>
<rect class="hg" x="488.15" y="343.6" width="2.45" height="0.4"/>
<rect class="hg" x="490.6" y="343.6" width="2.45" height="0.4"/>
<rect class="hg" x="493.05" y="343.6" width="2.45" height="0.4"/>
<rect class="hg" x="495.5" y="343.7" width="2.45" height="0.3"/>
<rect class="hg" x="497.95" y="343.7" width="2.45" height="0.3"/>
<rect class="hg" x="500.4" y="343.7" width="2.45" height="0.3"/>
<rect class="hg" x="502.85" y="343.7" width="2.45" height="0.3"/>
<rect class="hg" x="505.3" y="343.7" width="2.45" height="0.3"/>
<rect class="hg" x="507.75" y="343.7" width="2.45" height="0.3"/>
<rect class="hg" x="510.2" y="343.7" width="2.45" height="0.3"/>
<rect class="hg" x="512.65" y="343.7" width="2.45" height="0.3"/>
<rect class="hg" x="515.1" y="343.7" width="2.45" height="0.3"/>
<line x1="370" y1="197.9" x2="370" y2="255" stroke="#4040ee" stroke-width="1.7"/>
<line x1="370.7" y1="254.5" x2="370.7" y2="344" stroke="#1a1ad6" stroke-width="1.4"/>
<line x1="372.06" y1="344" x2="372.06" y2="248" stroke="#c400c4" stroke-width="1.4" stroke-dasharray="1.3 2.1"/>
<line x1="377.23" y1="344" x2="377.23" y2="303" stroke="#14901a" stroke-width="1.2" stroke-dasharray="3.4 1.2"/>
<rect x="303" y="190.63" width="243" height="153.37" fill="none" stroke="#969696" stroke-width="1.15"/>
<line x1="321.65" y1="344.5" x2="321.65" y2="345.7" stroke="#555" stroke-width="0.7"/>
<text x="321.65" y="351.5" font-size="7.5" text-anchor="middle" >−0.5</text>
<line x1="362.7" y1="344.5" x2="362.7" y2="345.7" stroke="#555" stroke-width="0.7"/>
<text x="362.7" y="351.5" font-size="7.5" text-anchor="middle" >0.0</text>
<line x1="403.75" y1="344.5" x2="403.75" y2="345.7" stroke="#555" stroke-width="0.7"/>
<text x="403.75" y="351.5" font-size="7.5" text-anchor="middle" >0.5</text>
<line x1="444.8" y1="344.5" x2="444.8" y2="345.7" stroke="#555" stroke-width="0.7"/>
<text x="444.8" y="351.5" font-size="7.5" text-anchor="middle" >1.0</text>
<line x1="485.85" y1="344.5" x2="485.85" y2="345.7" stroke="#555" stroke-width="0.7"/>
<text x="485.85" y="351.5" font-size="7.5" text-anchor="middle" >1.5</text>
<line x1="526.9" y1="344.5" x2="526.9" y2="345.7" stroke="#555" stroke-width="0.7"/>
<text x="526.9" y="351.5" font-size="7.5" text-anchor="middle" >2.0</text>
<line x1="301.3" y1="344" x2="302.5" y2="344" stroke="#555" stroke-width="0.7"/>
<text x="301.1" y="346.6" font-size="7.5" text-anchor="end" >0</text>
<line x1="301.3" y1="326.63" x2="302.5" y2="326.63" stroke="#555" stroke-width="0.7"/>
<text x="301.1" y="329.23" font-size="7.5" text-anchor="end" >100</text>
<line x1="301.3" y1="309.26" x2="302.5" y2="309.26" stroke="#555" stroke-width="0.7"/>
<text x="301.1" y="311.86" font-size="7.5" text-anchor="end" >200</text>
<line x1="301.3" y1="291.89" x2="302.5" y2="291.89" stroke="#555" stroke-width="0.7"/>
<text x="301.1" y="294.49" font-size="7.5" text-anchor="end" >300</text>
<line x1="301.3" y1="274.52" x2="302.5" y2="274.52" stroke="#555" stroke-width="0.7"/>
<text x="301.1" y="277.12" font-size="7.5" text-anchor="end" >400</text>
<line x1="301.3" y1="257.15" x2="302.5" y2="257.15" stroke="#555" stroke-width="0.7"/>
<text x="301.1" y="259.75" font-size="7.5" text-anchor="end" >500</text>
<line x1="301.3" y1="239.78" x2="302.5" y2="239.78" stroke="#555" stroke-width="0.7"/>
<text x="301.1" y="242.38" font-size="7.5" text-anchor="end" >600</text>
<line x1="301.3" y1="222.41" x2="302.5" y2="222.41" stroke="#555" stroke-width="0.7"/>
<text x="301.1" y="225.01" font-size="7.5" text-anchor="end" >700</text>
<line x1="301.3" y1="205.04" x2="302.5" y2="205.04" stroke="#555" stroke-width="0.7"/>
<text x="301.1" y="207.64" font-size="7.5" text-anchor="end" >800</text>
<text x="545.8" y="359.5" font-size="7.5" text-anchor="end" >×<tspan dx="0.8">10</tspan><tspan dy="-2.8" font-size="5.6">20</tspan></text>
<text x="424.5" y="361.2" font-size="8.1" text-anchor="middle" textLength="88.7" lengthAdjust="spacingAndGlyphs">errors of H<tspan dy="1.2" font-size="5.4">2</tspan><tspan dy="-1.2">O [molec</tspan><tspan dx="2.3">cm</tspan><tspan dy="-2.8" font-size="5.4">−2</tspan><tspan dy="2.8">]</tspan></text>
<text transform="translate(288.3,267.31) rotate(-90)" font-size="8.1" text-anchor="middle" textLength="35.3" lengthAdjust="spacingAndGlyphs">counts [#]</text>
<rect x="464" y="193.4" width="79.4" height="25.8" rx="1" ry="1" fill="#fff" fill-opacity="0.8" stroke="#d0d0d0" stroke-width="0.6"/>
<rect class="hb" x="466" y="196.25" width="12" height="3.6"/>
<text x="482.5" y="200.4" font-size="6.3" text-anchor="start" textLength="58.6" lengthAdjust="spacingAndGlyphs">SDRM, median 9.14e+18</text>
<rect class="hr" x="466" y="204.25" width="12" height="3.6"/>
<text x="482.5" y="208.4" font-size="6.3" text-anchor="start" textLength="52" lengthAdjust="spacingAndGlyphs">H16, median 1.14e+19</text>
<rect class="hg" x="466" y="212.25" width="12" height="3.6"/>
<text x="482.5" y="216.4" font-size="6.3" text-anchor="start" textLength="52" lengthAdjust="spacingAndGlyphs">G15, median 1.77e+19</text>
</g>
</svg>
</body>
</html>
